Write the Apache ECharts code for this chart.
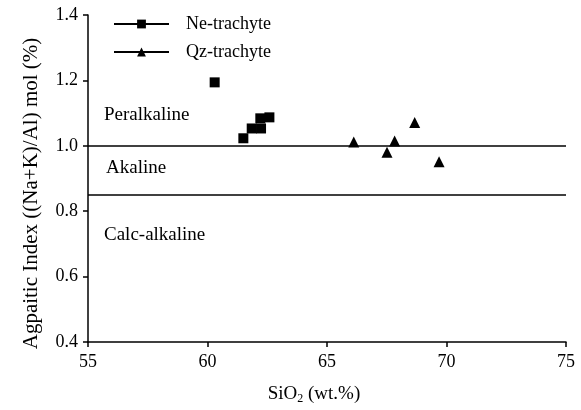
<!DOCTYPE html>
<html>
<head>
<meta charset="utf-8">
<script src="https://cdn.jsdelivr.net/npm/echarts@6/dist/echarts.min.js"></script>
<style>html,body{margin:0;padding:0;background:#fff}#c{width:581px;height:410px}</style>
</head>
<body>
<div id="c"></div>
<script>
const seriesNames = ['Ne-trachyte', 'Qz-trachyte'];
const neX = [60.3, 61.5, 61.85, 62.24, 62.21, 62.59];
const neY = [1.194, 1.023, 1.053, 1.053, 1.084, 1.087];
const qzX = [66.12, 67.51, 67.83, 68.67, 69.69];
const qzY = [1.012, 0.980, 1.015, 1.071, 0.951];
const boundaryValues = [1.0, 0.85];
const regionLabels = ['Peralkaline', 'Akaline', 'Calc-alkaline'];

const FONT = "'Liberation Serif', 'Times New Roman', serif";
const chart = echarts.init(document.getElementById('c'));
const pairs = (xs, ys) => xs.map((x, i) => [x, ys[i]]);

chart.setOption({
  animation: false,
  textStyle: { fontFamily: FONT, color: '#000' },
  grid: { left: 88, right: 15, top: 15, bottom: 68 },
  legend: {
    orient: 'vertical',
    left: 113, top: 15, padding: 0,
    itemWidth: 55, itemHeight: 11, itemGap: 10,
    textStyle: { fontFamily: FONT, fontSize: 18, color: '#000', padding: [0, 0, 0, 12] },
    lineStyle: { color: '#000', width: 2, opacity: 1, type: 'solid' },
    data: seriesNames
  },
  xAxis: {
    type: 'value', min: 55, max: 75, interval: 5,
    name: '{a|SiO}{s|2}{a| (wt.%)}', nameLocation: 'middle', nameGap: 42,
    nameTextStyle: { padding: [0, 26, 0, 0], rich: { a: { fontFamily: FONT, fontSize: 19, color: '#000' }, s: { fontFamily: FONT, fontSize: 12, color: '#000', padding: [9, 0, 0, 0] } } },
    axisLine: { lineStyle: { color: '#000', width: 1.5 } },
    axisTick: { show: true, inside: false, length: 5, lineStyle: { color: '#000', width: 1.5 } },
    axisLabel: { fontFamily: FONT, fontSize: 18, color: '#000', margin: 11 },
    splitLine: { show: false }
  },
  yAxis: {
    type: 'value', min: 0.4, max: 1.4, interval: 0.2,
    name: 'Agpaitic Index ((Na+K)/Al) mol (%)', nameLocation: 'middle', nameGap: 46,
    nameTextStyle: { fontFamily: FONT, fontSize: 21, color: '#000', padding: [0, 30, 0, 0] },
    axisLine: { show: true, lineStyle: { color: '#000', width: 1.5 } },
    axisTick: { show: true, inside: false, length: 5, lineStyle: { color: '#000', width: 1.5 } },
    axisLabel: { fontFamily: FONT, fontSize: 18, color: '#000', margin: 10, formatter: v => v.toFixed(1) },
    splitLine: { show: false }
  },
  series: [
    {
      name: seriesNames[0], type: 'line', data: pairs(neX, neY),
      symbol: 'rect', symbolSize: 10, showSymbol: true,
      itemStyle: { color: '#000' },
      lineStyle: { opacity: 0, width: 0 },
      markLine: {
        silent: true, symbol: ['none', 'none'], label: { show: false },
        lineStyle: { color: '#000', width: 1.5, type: 'solid' },
        data: boundaryValues.map(v => ({ yAxis: v }))
      }
    },
    {
      name: seriesNames[1], type: 'line', data: pairs(qzX, qzY),
      symbol: 'triangle', symbolSize: 11, showSymbol: true,
      itemStyle: { color: '#000' },
      lineStyle: { opacity: 0, width: 0 }
    }
  ],
  graphic: [
    { type: 'text', left: 104, top: 106, style: { text: regionLabels[0], font: "19px " + FONT, fill: '#000' } },
    { type: 'text', left: 106, top: 159, style: { text: regionLabels[1], font: "19px " + FONT, fill: '#000' } },
    { type: 'text', left: 104, top: 226, style: { text: regionLabels[2], font: "19px " + FONT, fill: '#000' } }
  ]
});
</script>
</body>
</html>
